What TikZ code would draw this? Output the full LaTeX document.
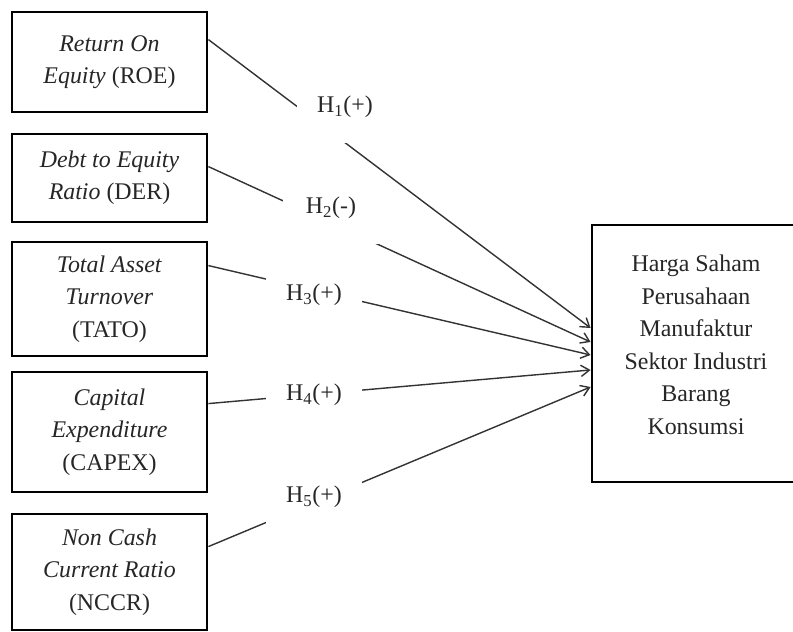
\documentclass[tikz,border=0pt]{standalone}
\usepackage{fontspec}
\setmainfont{Liberation Serif}
\usetikzlibrary{arrows.meta}

\begin{document}
\begin{tikzpicture}[
  varbox/.style={draw, line width=2pt, minimum width=4.875cm, align=center, inner sep=0pt, font=\fontsize{17}{23.1}\selectfont, text=black!85},
  hyp/.style={fill=white, minimum width=2.4cm, minimum height=1.8cm, inner sep=0pt, font=\fontsize{17}{23.1}\selectfont, text=black!85},
  link/.style={line width=1pt, draw=black!80, -{Straight Barb[length=6pt,width=8pt]}}
]

\useasboundingbox (0,0) rectangle (19.825,15.8);

% independent variables

\node[varbox, minimum height=2.5cm] (roe) at (2.7375, 14.25) {\textit{Return On}\\\textit{Equity} (ROE)};
\node[varbox, minimum height=2.2cm] (der) at (2.7375, 11.35) {\textit{Debt to Equity}\\\textit{Ratio} (DER)};
\node[varbox, minimum height=2.85cm] (tato) at (2.7375, 8.325) {\textit{Total Asset}\\\textit{Turnover}\\(TATO)};
\node[varbox, minimum height=3cm] (capex) at (2.7375, 5.0) {\textit{Capital}\\\textit{Expenditure}\\(CAPEX)};
\node[varbox, minimum height=2.9cm] (nccr) at (2.7375, 1.5) {\textit{Non Cash}\\\textit{Current Ratio}\\(NCCR)};

% dependent variable

\node[draw, line width=2pt, minimum width=5.2cm, minimum height=6.425cm] (harga) at (17.4, 6.9625) {};
\node[align=center, font=\fontsize{17}{23.1}\selectfont, text=black!85] (harga_label) at (17.4, 7.175) {Harga Saham\\Perusahaan\\Manufaktur\\Sektor Industri\\Barang\\Konsumsi};

% variables to price
\draw[link] ([yshift=-0.725cm]roe.north east) -- ([yshift=0.6375cm]harga.west);
\draw[link] ([yshift=-0.85cm]der.north east) -- ([yshift=0.2875cm]harga.west);
\draw[link] ([yshift=-0.625cm]tato.north east) -- ([yshift=-0.0375cm]harga.west);
\draw[link] ([yshift=-0.825cm]capex.north east) -- ([yshift=-0.4125cm]harga.west);
\draw[link] ([yshift=-0.85cm]nccr.north east) -- ([yshift=-0.8375cm]harga.west);

% hypotheses
\node[hyp] (h1) at (8.625, 13.125) {H\textsubscript{1}(+)};
\node[hyp] (h2) at (8.275, 10.6) {H\textsubscript{2}(-)};
\node[hyp] (h3) at (7.85, 8.425) {H\textsubscript{3}(+)};
\node[hyp] (h4) at (7.85, 5.925) {H\textsubscript{4}(+)};
\node[hyp] (h5) at (7.85, 3.375) {H\textsubscript{5}(+)};

\end{tikzpicture}
\end{document}
